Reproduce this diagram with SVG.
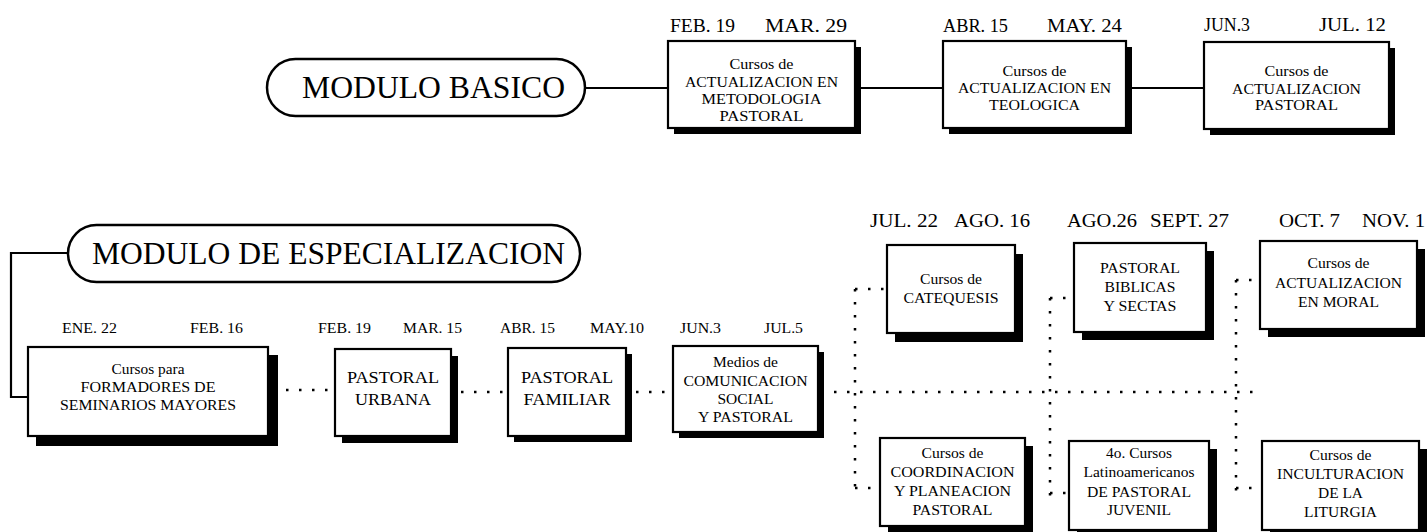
<svg xmlns="http://www.w3.org/2000/svg" width="1427" height="532" viewBox="0 0 1427 532">
<style>
.bg{fill:#fff}
.box{fill:#fff;stroke:#000;stroke-width:2.2}
.sh{fill:#000}
.pill{fill:#fff;stroke:#000;stroke-width:2.5}
text{font-family:'Liberation Serif','Times New Roman',Times,'Liberation Sans',serif;fill:#000}
.c{text-anchor:middle}
.t16{font-size:15px}
.t155{font-size:14.5px}
.t18{font-size:16.5px}
.big{font-size:30.5px;text-anchor:middle}
.dt{font-size:18px}
.dm{font-size:19px}
.db{font-size:15px}
.ln{stroke:#000;stroke-width:2.2;fill:none}
.dot{stroke:#000;stroke-width:2.5;stroke-dasharray:2.5 10.5;fill:none}
</style>
<rect class="bg" x="0" y="0" width="1427" height="532"/>

<g id="connectors">
  <path class="ln" d="M585,88 H668"/>
  <path class="ln" d="M855,88 H943"/>
  <path class="ln" d="M1126,88 H1204"/>
  <path class="ln" d="M68,253 H11 V397 H28" stroke-width="2.6"/>
  <path class="dot" d="M286,390 H334"/>
  <path class="dot" d="M461,392 H507"/>
  <path class="dot" d="M636,392 H672"/>
  <path class="dot" d="M834,392 H1256"/>
  <path class="dot" d="M855,289 V492"/>
  <path class="dot" d="M855,289 H887"/>
  <path class="dot" d="M855,488 H880"/>
  <path class="dot" d="M1050,298 V496"/>
  <path class="dot" d="M1050,298 H1074"/>
  <path class="dot" d="M1050,493 H1069"/>
  <path class="dot" d="M1236,280 V492"/>
  <path class="dot" d="M1236,280 H1260"/>
  <path class="dot" d="M1236,488 H1262"/>
</g>

<g id="modulo-basico">
  <rect class="pill" x="267" y="59" width="318" height="57" rx="28.5"/>
  <text class="big" x="433.5" y="98" textLength="263" lengthAdjust="spacingAndGlyphs">MODULO BASICO</text>
</g>

<g id="modulo-especializacion">
  <rect class="pill" x="68" y="225" width="512" height="57" rx="28.5"/>
  <text class="big" x="328.5" y="264" textLength="473" lengthAdjust="spacingAndGlyphs">MODULO DE ESPECIALIZACION</text>
</g>

<g id="dates-top">
  <text class="dt" x="670" y="32" textLength="65" lengthAdjust="spacingAndGlyphs">FEB. 19</text>
  <text class="dt" x="765" y="32" textLength="82" lengthAdjust="spacingAndGlyphs">MAR. 29</text>
  <text class="dt" x="943" y="32" textLength="65" lengthAdjust="spacingAndGlyphs">ABR. 15</text>
  <text class="dt" x="1047" y="32" textLength="75" lengthAdjust="spacingAndGlyphs">MAY. 24</text>
  <text class="dt" x="1204" y="31" textLength="46" lengthAdjust="spacingAndGlyphs">JUN.3</text>
  <text class="dt" x="1319" y="31" textLength="67" lengthAdjust="spacingAndGlyphs">JUL. 12</text>
</g>

<g id="dates-right">
  <text class="dm" x="870" y="227" textLength="68" lengthAdjust="spacingAndGlyphs">JUL. 22</text>
  <text class="dm" x="954" y="227" textLength="76" lengthAdjust="spacingAndGlyphs">AGO. 16</text>
  <text class="dm" x="1067" y="227" textLength="70" lengthAdjust="spacingAndGlyphs">AGO.26</text>
  <text class="dm" x="1150" y="227" textLength="79" lengthAdjust="spacingAndGlyphs">SEPT. 27</text>
  <text class="dm" x="1279" y="227" textLength="61" lengthAdjust="spacingAndGlyphs">OCT. 7</text>
  <text class="dm" x="1362" y="227" textLength="63" lengthAdjust="spacingAndGlyphs">NOV. 1</text>
</g>

<g id="dates-bottom">
  <text class="db" x="62" y="333" textLength="55" lengthAdjust="spacingAndGlyphs">ENE. 22</text>
  <text class="db" x="190" y="333" textLength="53" lengthAdjust="spacingAndGlyphs">FEB. 16</text>
  <text class="db" x="318" y="333" textLength="53" lengthAdjust="spacingAndGlyphs">FEB. 19</text>
  <text class="db" x="403" y="333" textLength="59" lengthAdjust="spacingAndGlyphs">MAR. 15</text>
  <text class="db" x="500" y="333" textLength="55" lengthAdjust="spacingAndGlyphs">ABR. 15</text>
  <text class="db" x="590" y="333" textLength="54" lengthAdjust="spacingAndGlyphs">MAY.10</text>
  <text class="db" x="680" y="333" textLength="41" lengthAdjust="spacingAndGlyphs">JUN.3</text>
  <text class="db" x="764" y="333" textLength="39" lengthAdjust="spacingAndGlyphs">JUL.5</text>
</g>

<g id="n-metodologia">
  <rect class="sh" x="674" y="47" width="187" height="87"/>
  <rect class="box" x="668" y="41" width="187" height="87"/>
  <text class="c t16" x="761.5" y="69" textLength="64" lengthAdjust="spacingAndGlyphs">Cursos de</text>
  <text class="c t16" x="761.5" y="87" textLength="153" lengthAdjust="spacingAndGlyphs">ACTUALIZACION EN</text>
  <text class="c t16" x="761.5" y="104" textLength="120" lengthAdjust="spacingAndGlyphs">METODOLOGIA</text>
  <text class="c t16" x="761.5" y="121" textLength="84" lengthAdjust="spacingAndGlyphs">PASTORAL</text>
</g>

<g id="n-teologica">
  <rect class="sh" x="949" y="47" width="183" height="87"/>
  <rect class="box" x="943" y="41" width="183" height="87"/>
  <text class="c t16" x="1034.5" y="76" textLength="64" lengthAdjust="spacingAndGlyphs">Cursos de</text>
  <text class="c t16" x="1034.5" y="93" textLength="153" lengthAdjust="spacingAndGlyphs">ACTUALIZACION EN</text>
  <text class="c t16" x="1034.5" y="110" textLength="91" lengthAdjust="spacingAndGlyphs">TEOLOGICA</text>
</g>

<g id="n-pastoral">
  <rect class="sh" x="1210" y="48" width="185" height="87"/>
  <rect class="box" x="1204" y="42" width="185" height="87"/>
  <text class="c t16" x="1296.5" y="76" textLength="64" lengthAdjust="spacingAndGlyphs">Cursos de</text>
  <text class="c t16" x="1296.5" y="94" textLength="129" lengthAdjust="spacingAndGlyphs">ACTUALIZACION</text>
  <text class="c t16" x="1296.5" y="110" textLength="83" lengthAdjust="spacingAndGlyphs">PASTORAL</text>
</g>

<g id="n-formadores">
  <rect class="sh" x="36" y="355" width="242" height="91"/>
  <rect class="box" x="28" y="347" width="240" height="89"/>
  <text class="c t155" x="148" y="374" textLength="73" lengthAdjust="spacingAndGlyphs">Cursos para</text>
  <text class="c t155" x="148" y="392" textLength="135" lengthAdjust="spacingAndGlyphs">FORMADORES DE</text>
  <text class="c t155" x="148" y="410" textLength="176" lengthAdjust="spacingAndGlyphs">SEMINARIOS MAYORES</text>
</g>

<g id="n-urbana">
  <rect class="sh" x="342" y="356" width="116" height="87"/>
  <rect class="box" x="335" y="349" width="116" height="87"/>
  <text class="c t18" x="393" y="383" textLength="92" lengthAdjust="spacingAndGlyphs">PASTORAL</text>
  <text class="c t18" x="393" y="405" textLength="76" lengthAdjust="spacingAndGlyphs">URBANA</text>
</g>

<g id="n-familiar">
  <rect class="sh" x="514" y="354" width="118" height="88"/>
  <rect class="box" x="508" y="348" width="118" height="88"/>
  <text class="c t18" x="567" y="383" textLength="92" lengthAdjust="spacingAndGlyphs">PASTORAL</text>
  <text class="c t18" x="567" y="405" textLength="87" lengthAdjust="spacingAndGlyphs">FAMILIAR</text>
</g>

<g id="n-medios">
  <rect class="sh" x="679" y="352" width="145" height="86"/>
  <rect class="box" x="673" y="346" width="145" height="86"/>
  <text class="c t155" x="745.5" y="367" textLength="65" lengthAdjust="spacingAndGlyphs">Medios de</text>
  <text class="c t155" x="745.5" y="386" textLength="124" lengthAdjust="spacingAndGlyphs">COMUNICACION</text>
  <text class="c t155" x="745.5" y="404" textLength="56" lengthAdjust="spacingAndGlyphs">SOCIAL</text>
  <text class="c t155" x="745.5" y="422" textLength="95" lengthAdjust="spacingAndGlyphs">Y PASTORAL</text>
</g>

<g id="n-catequesis">
  <rect class="sh" x="895" y="254" width="128" height="88"/>
  <rect class="box" x="887" y="245" width="128" height="88"/>
  <text class="c t155" x="951" y="284" textLength="62" lengthAdjust="spacingAndGlyphs">Cursos de</text>
  <text class="c t155" x="951" y="303" textLength="95" lengthAdjust="spacingAndGlyphs">CATEQUESIS</text>
</g>

<g id="n-biblicas">
  <rect class="sh" x="1082" y="251" width="132" height="89"/>
  <rect class="box" x="1074" y="243" width="132" height="89"/>
  <text class="c t155" x="1140" y="273" textLength="80" lengthAdjust="spacingAndGlyphs">PASTORAL</text>
  <text class="c t155" x="1140" y="292" textLength="71" lengthAdjust="spacingAndGlyphs">BIBLICAS</text>
  <text class="c t155" x="1140" y="311" textLength="73" lengthAdjust="spacingAndGlyphs">Y SECTAS</text>
</g>

<g id="n-moral">
  <rect class="sh" x="1268" y="249" width="157" height="88"/>
  <rect class="box" x="1260" y="241" width="157" height="88"/>
  <text class="c t155" x="1338.5" y="268" textLength="62" lengthAdjust="spacingAndGlyphs">Cursos de</text>
  <text class="c t155" x="1338.5" y="288" textLength="127" lengthAdjust="spacingAndGlyphs">ACTUALIZACION</text>
  <text class="c t155" x="1338.5" y="307" textLength="81" lengthAdjust="spacingAndGlyphs">EN MORAL</text>
</g>

<g id="n-coordinacion">
  <rect class="sh" x="888" y="446" width="145" height="88"/>
  <rect class="box" x="880" y="438" width="145" height="88"/>
  <text class="c t155" x="952.5" y="458" textLength="62" lengthAdjust="spacingAndGlyphs">Cursos de</text>
  <text class="c t155" x="952.5" y="477" textLength="124" lengthAdjust="spacingAndGlyphs">COORDINACION</text>
  <text class="c t155" x="952.5" y="496" textLength="117" lengthAdjust="spacingAndGlyphs">Y PLANEACION</text>
  <text class="c t155" x="952.5" y="515" textLength="80" lengthAdjust="spacingAndGlyphs">PASTORAL</text>
</g>

<g id="n-juvenil">
  <rect class="sh" x="1077" y="449" width="140" height="89"/>
  <rect class="box" x="1069" y="441" width="140" height="89"/>
  <text class="c t155" x="1139" y="458" textLength="66" lengthAdjust="spacingAndGlyphs">4o. Cursos</text>
  <text class="c t155" x="1139" y="477" textLength="111" lengthAdjust="spacingAndGlyphs">Latinoamericanos</text>
  <text class="c t155" x="1139" y="497" textLength="104" lengthAdjust="spacingAndGlyphs">DE PASTORAL</text>
  <text class="c t155" x="1139" y="515" textLength="64" lengthAdjust="spacingAndGlyphs">JUVENIL</text>
</g>

<g id="n-inculturacion">
  <rect class="sh" x="1270" y="449" width="157" height="89"/>
  <rect class="box" x="1262" y="441" width="157" height="89"/>
  <text class="c t155" x="1340.5" y="460" textLength="62" lengthAdjust="spacingAndGlyphs">Cursos de</text>
  <text class="c t155" x="1340.5" y="479" textLength="127" lengthAdjust="spacingAndGlyphs">INCULTURACION</text>
  <text class="c t155" x="1340.5" y="498" textLength="45" lengthAdjust="spacingAndGlyphs">DE LA</text>
  <text class="c t155" x="1340.5" y="517" textLength="73" lengthAdjust="spacingAndGlyphs">LITURGIA</text>
</g>
</svg>
